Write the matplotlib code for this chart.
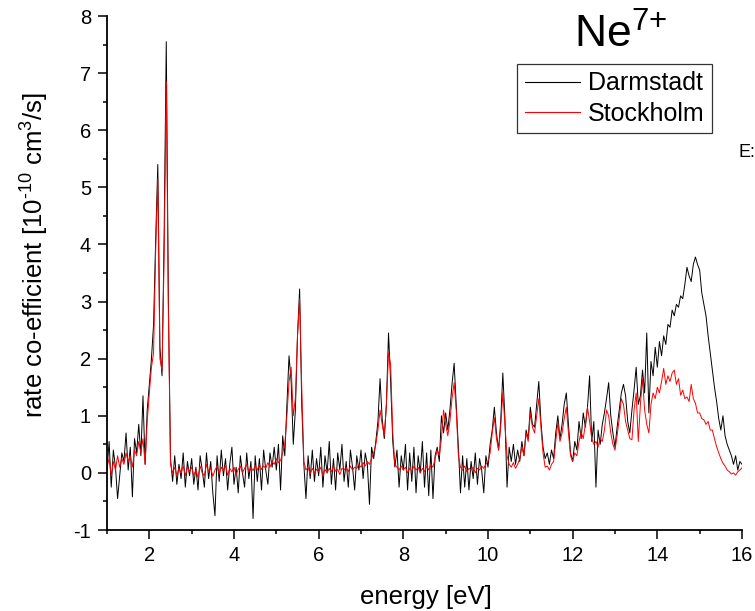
import matplotlib
matplotlib.use("Agg")
import matplotlib.pyplot as plt
import numpy as np
from matplotlib.ticker import MultipleLocator

# energy grid (eV), 0.05 eV sampling
energy = np.round(np.arange(1.0, 16.001, 0.05), 2)

darmstadt = [
    0.05, 0.55, -0.25, 0.40, 0.10, -0.45, -0.05, 0.35, 0.20, 0.70, 0.05, 0.45, -0.42, 0.60, 0.35, 0.85, 0.30, 1.35, 0.15, 1.10,
    1.55, 2.00, 2.60, 4.10, 5.40, 2.20, 1.70, 4.20, 7.55, 3.00, 0.25, -0.15, 0.30, -0.20, 0.15, -0.10, 0.35, -0.25, 0.20, -0.05,
    0.25, -0.20, 0.10, -0.30, 0.30, 0.05, -0.25, 0.35, -0.10, 0.20, -0.35, -0.75, 0.30, -0.15, 0.40, -0.05, 0.25, -0.30, 0.15, 0.45,
    -0.20, 0.10, -0.35, 0.30, 0.00, -0.25, 0.35, -0.10, 0.20, -0.80, 0.30, -0.15, 0.25, -0.30, 0.40, 0.05, -0.20, 0.35, 0.10, 0.45,
    0.05, 0.50, -0.30, 0.65, 0.30, 1.20, 2.05, 1.60, 0.50, 1.10, 2.40, 3.22, 1.20, 0.15, -0.45, 0.30, -0.10, 0.40, -0.15, 0.25,
    -0.05, 0.45, -0.25, 0.30, 0.00, 0.55, -0.20, 0.25, -0.30, 0.35, 0.05, 0.50, -0.15, 0.20, -0.25, 0.40, 0.10, -0.30, 0.30, 0.05,
    0.40, -0.10, 0.35, 0.15, -0.55, 0.45, 0.25, 0.55, 0.90, 1.65, 0.95, 0.60, 1.20, 2.45, 1.60, 0.55, 0.10, 0.40, -0.25, 0.30,
    0.05, 0.50, -0.30, 0.35, -0.15, 0.45, -0.35, 0.30, 0.00, 0.55, -0.25, 0.35, -0.40, 0.40, -0.45, 0.30, 0.45, 0.20, 1.00, 0.70,
    1.05, 0.75, 1.10, 1.55, 1.92, 1.20, 0.45, -0.35, 0.30, -0.25, 0.25, -0.30, 0.20, -0.10, 0.35, -0.20, 0.25, 0.05, -0.35, 0.30,
    0.10, 0.50, 0.75, 1.15, 0.70, 0.40, 0.90, 1.75, 0.95, -0.25, 0.45, 0.20, 0.50, 0.15, 0.40, 0.20, 0.55, 0.30, 0.75, 0.60,
    1.15, 0.85, 0.80, 1.20, 1.60, 0.90, 0.45, 0.25, 0.35, 0.15, 0.40, 0.25, 0.70, 1.00, 0.60, 0.85, 1.20, 1.40, 0.85, 0.35,
    0.20, 0.55, 0.40, 0.90, 0.60, 1.05, 0.80, 1.15, 1.70, 0.55, 0.90, -0.25, 0.75, 0.50, 0.85, 1.05, 1.30, 1.58, 1.00, 0.70,
    0.45, 0.80, 1.10, 1.40, 1.55, 1.35, 0.90, 0.70, 1.10, 1.45, 1.85, 1.20, 1.35, 1.80, 1.40, 2.45, 1.05, 1.95, 1.70, 2.20,
    1.85, 2.30, 2.05, 2.40, 2.25, 2.60, 2.55, 2.85, 2.75, 2.95, 2.90, 3.10, 3.05, 3.30, 3.60, 3.45, 3.35, 3.65, 3.78, 3.65,
    3.55, 3.15, 2.95, 2.75, 2.40, 2.10, 1.80, 1.50, 1.25, 0.95, 0.75, 1.00, 0.65, 0.50, 0.40, 0.30, 0.15, 0.30, 0.05, 0.20,
    0.15,
]

stockholm = [
    0.10, 0.25, -0.05, 0.20, 0.05, 0.30, 0.10, 0.25, 0.15, 0.35, 0.20, 0.30, 0.10, 0.40, 0.30, 0.55, 0.35, 0.60, 0.15, 0.90,
    1.40, 1.85, 2.10, 3.90, 5.15, 2.00, 1.80, 3.80, 6.85, 2.80, 0.15, 0.00, 0.10, -0.05, 0.08, 0.00, 0.12, -0.05, 0.10, 0.02,
    0.10, -0.05, 0.05, -0.08, 0.12, 0.00, -0.05, 0.15, 0.02, 0.08, -0.06, 0.05, 0.12, -0.02, 0.10, 0.03, 0.14, -0.04, 0.08, 0.02,
    0.10, -0.03, 0.06, 0.12, 0.00, 0.08, 0.15, 0.02, 0.10, 0.04, 0.12, 0.05, 0.15, 0.06, 0.12, 0.08, 0.18, 0.10, 0.20, 0.15,
    0.25, 0.18, 0.22, 0.35, 0.50, 1.00, 1.60, 1.85, 1.00, 1.30, 2.40, 3.05, 1.50, 0.20, 0.05, 0.10, -0.02, 0.08, 0.00, 0.06,
    0.02, 0.10, -0.05, 0.06, 0.00, 0.08, 0.02, 0.12, 0.03, 0.06, -0.03, 0.08, 0.05, 0.10, 0.02, 0.12, 0.05, 0.10, 0.08, 0.15,
    0.10, 0.18, 0.12, 0.20, 0.15, 0.25, 0.35, 0.50, 0.75, 1.10, 0.85, 0.65, 1.20, 2.10, 1.90, 0.70, 0.15, 0.10, 0.05, 0.12,
    0.05, 0.10, 0.00, 0.08, 0.03, 0.12, 0.05, 0.10, 0.00, 0.08, 0.02, 0.12, 0.05, 0.15, 0.10, 0.25, 0.40, 0.30, 0.60, 1.10,
    0.85, 0.65, 0.90, 1.30, 1.58, 1.10, 0.30, 0.10, 0.05, 0.12, 0.02, 0.08, 0.05, 0.10, 0.00, 0.08, 0.05, 0.12, 0.08, 0.15,
    0.20, 0.35, 0.70, 0.97, 0.60, 0.40, 0.80, 1.40, 0.85, 0.30, 0.15, 0.10, 0.18, 0.08, 0.15, 0.25, 0.45, 0.30, 0.70, 0.55,
    1.05, 0.80, 0.70, 1.00, 1.30, 0.80, 0.35, 0.10, 0.12, 0.05, 0.15, 0.20, 0.55, 0.88, 0.55, 0.70, 0.95, 1.15, 0.70, 0.30,
    0.20, 0.35, 0.30, 0.55, 0.72, 0.60, 0.85, 1.15, 0.90, 0.60, 0.50, 0.55, 0.45, 0.60, 0.55, 0.75, 1.10, 1.00, 0.70, 0.50,
    0.40, 0.65, 0.95, 1.30, 1.20, 0.90, 0.75, 0.60, 0.58, 1.10, 1.40, 0.55, 1.20, 1.65, 1.10, 0.85, 0.70, 1.20, 1.40, 1.30,
    1.50, 1.40, 1.60, 1.83, 1.55, 1.70, 1.60, 1.75, 1.80, 1.55, 1.65, 1.36, 1.45, 1.30, 1.33, 1.25, 1.55, 1.30, 1.22, 1.05,
    1.05, 0.95, 0.93, 0.85, 0.90, 0.75, 0.75, 0.60, 0.46, 0.35, 0.25, 0.17, 0.12, 0.05, 0.02, -0.02, 0.00, -0.04, 0.02, 0.05,
    0.09,
]

plt.rcParams["font.family"] = ["Liberation Sans", "DejaVu Sans"]
plt.rcParams["mathtext.fontset"] = "custom"
plt.rcParams["mathtext.rm"] = "Liberation Sans"
plt.rcParams["mathtext.it"] = "Liberation Sans:italic"
plt.rcParams["axes.unicode_minus"] = False

fig = plt.figure(figsize=(7.55, 6.11), dpi=100)
ax = fig.add_axes([107 / 755, 81 / 611, 635 / 755, 514 / 611])

ax.plot(energy, darmstadt, color="black", lw=0.7, label="Darmstadt")
ax.plot(energy, stockholm, color="red", lw=0.7, label="Stockholm")

ax.set_xlim(1, 16)
ax.set_ylim(-1, 8)
ax.xaxis.set_major_locator(MultipleLocator(2))
ax.xaxis.set_minor_locator(MultipleLocator(1))
ax.yaxis.set_major_locator(MultipleLocator(1))
ax.yaxis.set_minor_locator(MultipleLocator(0.5))
ax.tick_params(which="major", direction="out", length=6.5, width=1.1, labelsize=14.5, pad=5)
ax.tick_params(which="minor", direction="out", length=3, width=1.1)
for side in ["top", "right"]:
    ax.spines[side].set_visible(False)
for side in ["left", "bottom"]:
    ax.spines[side].set_linewidth(1.3)

ax.set_xlabel("energy [eV]", fontsize=18.5, va="center")
ax.xaxis.set_label_coords(0.5016, -0.130)
ax.set_ylabel(r"rate co-efficient [10$^{\text{-10}}$ cm$^3$/s]", fontsize=18.5, va="center")
ax.yaxis.set_label_coords(-0.113, 0.535)

fig.text(621 / 755, 1 - 35 / 611, "Ne$^{7{+}}$", fontsize=32, ha="center", va="center")
fig.text(738 / 755, 1 - 152 / 611, "E:", fontsize=13, ha="left", va="center")

leg = ax.legend(loc="upper left", bbox_to_anchor=(517 / 755, 1 - 64 / 611),
                bbox_transform=fig.transFigure, fontsize=18, frameon=True,
                fancybox=False, borderaxespad=0, borderpad=0.3, handlelength=2.2,
                handletextpad=0.32, labelspacing=0.25)
leg.get_frame().set_edgecolor("black")
leg.get_frame().set_linewidth(0.9)
for line in leg.get_lines():
    line.set_linewidth(0.8)

fig.savefig("out.png", dpi=100)
